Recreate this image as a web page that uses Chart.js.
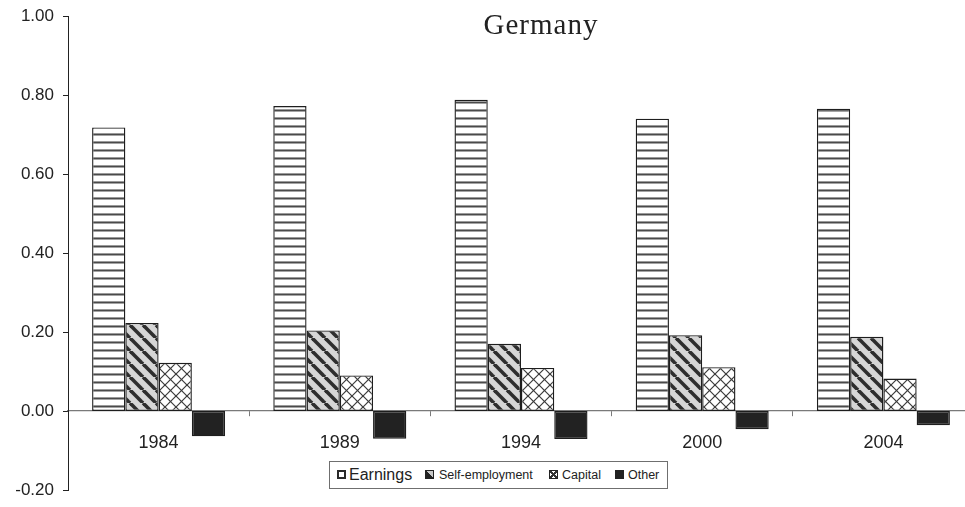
<!DOCTYPE html>
<html>
<head>
<meta charset="utf-8">
<script src="https://cdn.jsdelivr.net/npm/chart.js@4.4.1/dist/chart.umd.min.js"></script>
<style>
  html, body { margin: 0; padding: 0; background: #fff; overflow: hidden; }
  #wrap { position: relative; width: 975px; height: 507px; }
  #chart { position: absolute; left: 0; top: 0; }
  #title {
    position: absolute; left: 441px; width: 200px; top: 7px; text-align: center;
    font-family: "Liberation Serif", "Times New Roman", serif; font-size: 29px;
    letter-spacing: 1px; color: #222; line-height: 34px;
  }
  #legend {
    position: absolute; left: 329px; top: 461px; width: 339px; height: 28px;
    border: 1px solid #6f6f6f; box-sizing: border-box; background: #fff;
    font-family: "Liberation Sans", Arial, sans-serif; color: #222;
  }
  .item { position: absolute; top: 0; height: 26px; line-height: 26px; white-space: nowrap; }
  .sw { position: absolute; top: 8px; width: 9px; height: 9px; box-sizing: border-box; border: 1px solid #222; }
  .lbl { position: absolute; top: 0; }
</style>
</head>
<body>
<div id="wrap">
  <canvas id="chart" width="975" height="507"></canvas>
  <div id="title">Germany</div>
  <div id="legend">
    <div class="item" style="left:7px">
      <div class="sw" style="left:0; border:2px solid #2a2a2a; background:#fff"></div>
      <div class="lbl" style="left:12px; font-size:16px">Earnings</div>
    </div>
    <div class="item" style="left:95px">
      <div class="sw" style="left:0; background:linear-gradient(45deg, #222 0 55%, #c8c8c8 55% 100%)"></div>
      <div class="lbl" style="left:14px; font-size:12.5px">Self-employment</div>
    </div>
    <div class="item" style="left:219px">
      <div class="sw" style="left:0; background:
        linear-gradient(45deg, transparent 42%, #333 42% 58%, transparent 58%),
        linear-gradient(-45deg, transparent 42%, #333 42% 58%, transparent 58%), #fff"></div>
      <div class="lbl" style="left:13px; font-size:12.5px">Capital</div>
    </div>
    <div class="item" style="left:285px">
      <div class="sw" style="left:0; background:#222"></div>
      <div class="lbl" style="left:13px; font-size:12.5px">Other</div>
    </div>
  </div>
</div>
<script>
// Income source shares by survey year
const categories = ['1984', '1989', '1994', '2000', '2004'];
const earnings = [0.718, 0.772, 0.788, 0.740, 0.765];
const selfEmployment = [0.223, 0.204, 0.170, 0.192, 0.188];
const capital = [0.122, 0.090, 0.109, 0.111, 0.082];
const other = [-0.064, -0.070, -0.071, -0.046, -0.036];
const yTickMin = -0.2, yTickMax = 1.0, yTickStep = 0.2;

// Fill patterns for the bars
function makeTile(size, draw) {
  const c = document.createElement('canvas');
  c.width = size; c.height = size;
  const g = c.getContext('2d');
  draw(g, size);
  return g.createPattern(c, 'repeat');
}
const hStripes = makeTile(8, (g, s) => {
  g.fillStyle = '#fff'; g.fillRect(0, 0, s, s);
  g.fillStyle = '#9a9a9a'; g.fillRect(0, 5, s, 1);
  g.fillStyle = '#4a4a4a'; g.fillRect(0, 6, s, 1.5);
});
const diagStripes = makeTile(13, (g, s) => {
  g.fillStyle = '#d6d6d6'; g.fillRect(0, 0, s, s);
  g.strokeStyle = '#2e2e2e'; g.lineWidth = 3.6;
  for (const o of [-s, 0, s]) {
    g.beginPath(); g.moveTo(o, 0); g.lineTo(o + s, s); g.stroke();
  }
});
const crossHatch = makeTile(11, (g, s) => {
  g.fillStyle = '#fff'; g.fillRect(0, 0, s, s);
  g.strokeStyle = '#3a3a3a'; g.lineWidth = 1.2;
  for (const o of [-s, 0, s]) {
    g.beginPath(); g.moveTo(o, 0); g.lineTo(o + s, s); g.stroke();
    g.beginPath(); g.moveTo(o + s, 0); g.lineTo(o, s); g.stroke();
  }
});

const edge = '#1e1e1e';
const ds = (label, data, fill) => ({
  label, data, backgroundColor: fill, borderColor: edge, borderWidth: 1.4,
  borderSkipped: false, barPercentage: 1.0, categoryPercentage: 0.734
});

new Chart(document.getElementById('chart'), {
  type: 'bar',
  data: {
    labels: categories,
    datasets: [
      ds('Earnings', earnings, hStripes),
      ds('Self-employment', selfEmployment, diagStripes),
      ds('Capital', capital, crossHatch),
      ds('Other', other, '#222')
    ]
  },
  options: {
    responsive: false,
    animation: false,
    devicePixelRatio: 1,
    layout: { padding: { left: 0, right: 1, top: 16, bottom: 17 } },
    plugins: { legend: { display: false }, title: { display: false }, tooltip: { enabled: false } },
    scales: {
      x: {
        position: { y: 0 },
        offset: true,
        grid: { display: true, drawOnChartArea: false, drawTicks: true, tickLength: 5, color: '#7a7a7a', offset: true },
        border: { display: true, color: '#7a7a7a', width: 1.2 },
        ticks: { color: '#222', font: { family: 'Liberation Sans, Arial, sans-serif', size: 18 }, padding: 16, maxRotation: 0 }
      },
      y: {
        min: yTickMin, max: yTickMax,
        afterFit: (s) => { s.width = 68; },
        grid: { display: true, drawOnChartArea: false, drawTicks: true, tickLength: 5, color: '#222' },
        border: { display: true, color: '#222', width: 1 },
        ticks: {
          stepSize: yTickStep, color: '#222', padding: 9,
          font: { family: 'Liberation Sans, Arial, sans-serif', size: 17, lineHeight: 0.3 },
          callback: (v) => (Math.abs(v) < 1e-9 ? 0 : Number(v)).toFixed(2)
        }
      }
    }
  }
});
</script>
</body>
</html>
